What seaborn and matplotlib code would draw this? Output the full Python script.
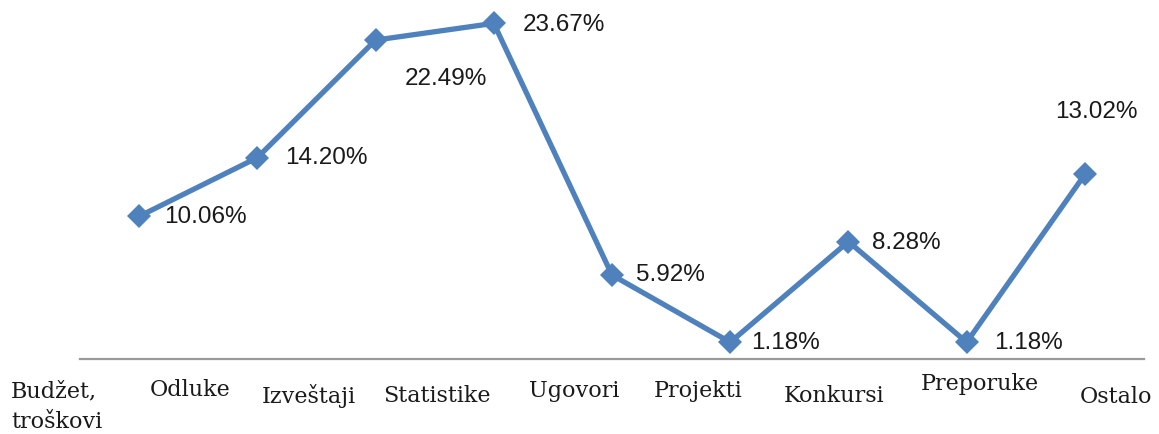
import matplotlib
matplotlib.use("Agg")
import matplotlib.pyplot as plt
import seaborn as sns
import pandas as pd

categories = ["Budžet,\ntroškovi", "Odluke", "Izveštaji", "Statistike", "Ugovori",
              "Projekti", "Konkursi", "Preporuke", "Ostalo"]
values = [10.06, 14.20, 22.49, 23.67, 5.92, 1.18, 8.28, 1.18, 13.02]
value_labels = ["10.06%", "14.20%", "22.49%", "23.67%", "5.92%", "1.18%", "8.28%", "1.18%", "13.02%"]

df = pd.DataFrame({"pos": range(len(categories)), "value": values})

sns.set_theme(style="white")
plt.rcParams["font.family"] = ["DejaVu Sans"]

fig = plt.figure(figsize=(11.59, 4.34), dpi=100)
ax = fig.add_axes([80 / 1159, 1 - 359 / 434, (1144 - 80) / 1159, 354.5 / 434])

color = "#4F81BD"
sns.lineplot(data=df, x="pos", y="value", ax=ax, color=color, linewidth=3.8,
             marker="D", markersize=12.5, markeredgewidth=0, markerfacecolor=color)

ax.set_xlim(-0.5, 8.5)
ax.set_ylim(0, 25)
for s in ["top", "right", "left"]:
    ax.spines[s].set_visible(False)
ax.spines["bottom"].set_color("#9a9a9a")
ax.spines["bottom"].set_linewidth(1.6)
ax.set_yticks([])
ax.set_xticks(range(len(categories)))
ax.set_xticklabels([])
ax.tick_params(axis="x", length=0)
ax.set_xlabel("")
ax.set_ylabel("")

# data labels: (dx, dy) in pixels, alignment
lab_off = [(25, -1, "left"), (28, 0, "left"), (70, -39, "center"), (29, -2, "left"),
           (24, 0, "left"), (21, -1, "left"), (24, -1, "left"), (27, -1, "left"),
           (11, 62, "center")]
for i, (v, t) in enumerate(zip(values, value_labels)):
    dx, dy, ha = lab_off[i]
    ax.annotate(t, xy=(i, v), xytext=(dx, dy), textcoords="offset pixels",
                ha=ha, va="center", fontsize=17.5, family="Liberation Sans",
                color="#1a1a1a")

# category labels: (dx, dy) in pixels from tick position on axis, alignment
cat_off = [(-128, -69, "left"), (-67, -37, "center"), (-67, -44, "center"),
           (-57, -43, "center"), (-38, -38, "center"), (-32, -38, "center"),
           (-14, -43, "center"), (13, -31, "center"), (31, -44, "center")]
for i, c in enumerate(categories):
    dx, dy, ha = cat_off[i]
    ax.annotate(c, xy=(i, 0), xytext=(dx, dy), textcoords="offset pixels",
                ha=ha, va="baseline", fontsize=16, family="DejaVu Serif",
                color="#1a1a1a", linespacing=1.5, annotation_clip=False)

fig.savefig("out.png", dpi=100)
